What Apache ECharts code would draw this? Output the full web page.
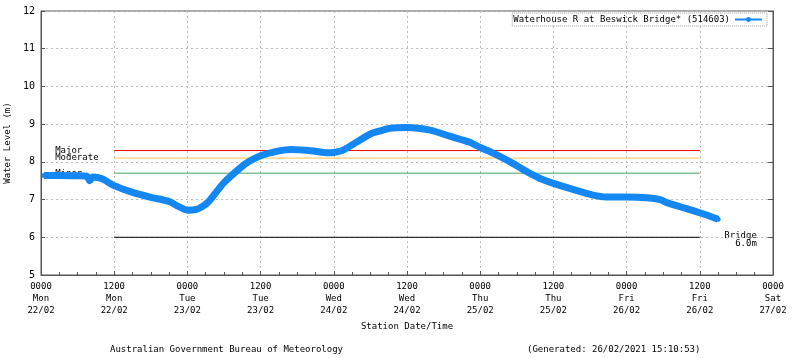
<!DOCTYPE html>
<html>
<head>
<meta charset="utf-8">
<script src="https://cdn.jsdelivr.net/npm/echarts@6/dist/echarts.min.js"></script>
<style>
html,body{margin:0;padding:0;background:#fff;}
#chart{width:800px;height:358px;}
</style>
</head>
<body>
<div id="chart"></div>
<script>
// ---- data ----
const seriesName = 'Waterhouse R at Beswick Bridge* (514603)';
// hours since 0000 Mon 22/02/2021
const levelHours = [0.5, 3, 6, 7.5, 8, 8.5, 10, 12, 15, 18, 21, 22.5, 24, 25.5, 26.5, 27.5, 28.5, 30, 32.6, 34, 36, 39, 41, 44.6, 47, 48, 49.5, 52.3, 54, 55.6, 57.2, 60, 63.8, 67, 70.3, 72, 73.6, 76.9, 80.2, 81.8, 84, 87.2, 90.5, 92.7, 96, 99.3, 101.5, 102.6, 104.8, 108, 111];
const levelValues = [7.64, 7.64, 7.63, 7.62, 7.50, 7.60, 7.55, 7.37, 7.19, 7.06, 6.95, 6.82, 6.72, 6.74, 6.82, 6.95, 7.15, 7.45, 7.83, 8.00, 8.16, 8.29, 8.33, 8.29, 8.24, 8.25, 8.31, 8.58, 8.74, 8.82, 8.89, 8.91, 8.84, 8.68, 8.52, 8.38, 8.27, 8.00, 7.69, 7.56, 7.43, 7.27, 7.12, 7.07, 7.07, 7.05, 7.00, 6.92, 6.81, 6.65, 6.48];

const thresholdNames = ['Major', 'Moderate', 'Minor', 'Bridge\n6.0m'];
const thresholdValues = [8.3, 8.1, 7.7, 6.0];
const thresholdStart = 12;
const thresholdEnd = 108;

const xTickLabels = ['0000\nMon\n22/02', '1200\nMon\n22/02', '0000\nTue\n23/02', '1200\nTue\n23/02', '0000\nWed\n24/02', '1200\nWed\n24/02', '0000\nThu\n25/02', '1200\nThu\n25/02', '0000\nFri\n26/02', '1200\nFri\n26/02', '0000\nSat\n27/02'];
const yMin = 5, yMax = 12;
const xAxisTitle = 'Station Date/Time';
const yAxisTitle = 'Water Level (m)';
const footerLeft = 'Australian Government Bureau of Meteorology';
const footerRight = '(Generated: 26/02/2021 15:10:53)';

// ---- chart ----
const FONT = 'DejaVu Sans Mono';
const thresholdColors = ['#ff0000', '#ffc34d', '#3da56a', '#000000'];
const chart = echarts.init(document.getElementById('chart'), null, {renderer: 'canvas'});

const levelData = levelHours.map((h, i) => [h, levelValues[i]]);

const thresholdSeries = thresholdNames.map((name, i) => ({
  name: 'thr' + i,
  type: 'line',
  silent: true,
  z: 1,
  showSymbol: false,
  symbol: 'none',
  lineStyle: {color: thresholdColors[i], width: 1},
  data: [[thresholdStart, thresholdValues[i]], [thresholdEnd, thresholdValues[i]]],
  animation: false
}));

const option = {
  animation: false,
  backgroundColor: '#ffffff',
  grid: {left: 41, right: 27, top: 11, bottom: 83, show: true, borderColor: '#555', borderWidth: 1,
         containLabel: false, outerBoundsMode: 'none'},
  legend: {
    data: [seriesName],
    right: 33, top: 13,
    align: 'right',
    itemWidth: 27, itemHeight: 6, itemGap: 4,
    padding: [2, 4, 2, 1],
    borderColor: '#999', borderWidth: 1, borderType: 'dotted',
    lineStyle: {width: 2},
    textStyle: {fontFamily: FONT, fontSize: 9, color: '#000', padding: [0, 0, 0, 0]}
  },
  xAxis: [{
    type: 'value', min: 0, max: 120, interval: 12,
    name: xAxisTitle, nameLocation: 'middle', nameGap: 47,
    nameTextStyle: {fontFamily: FONT, fontSize: 9, color: '#000'},
    axisLine: {lineStyle: {color: '#555'}},
    axisTick: {show: true, inside: true, length: 4, lineStyle: {color: '#555'}},
    minorTick: {show: true, splitNumber: 4, length: 3, lineStyle: {color: '#555'}},
    axisLabel: {showMaxLabel: true, showMinLabel: true, margin: 6, fontFamily: FONT, fontSize: 9, lineHeight: 12, color: '#000',
      formatter: v => xTickLabels[Math.round(v / 12)]},
    splitLine: {show: true, lineStyle: {color: '#bbb', type: [2, 3], width: 1}}
  }],
  yAxis: [{
    type: 'value', min: yMin, max: yMax, interval: 1,
    name: yAxisTitle, nameLocation: 'middle', nameGap: 28, nameRotate: 90,
    nameTextStyle: {fontFamily: FONT, fontSize: 9, color: '#000'},
    axisLine: {show: true, lineStyle: {color: '#555'}},
    axisTick: {show: true, inside: true, length: 4, lineStyle: {color: '#555'}},
    axisLabel: {margin: 6, fontFamily: FONT, fontSize: 10, color: '#000'},
    splitLine: {show: true, lineStyle: {color: '#bbb', type: [2, 3], width: 1}}
  }, {
    type: 'value', min: yMin, max: yMax, interval: 1, position: 'right',
    axisLine: {show: true, lineStyle: {color: '#555'}},
    axisTick: {show: true, inside: true, length: 5, lineStyle: {color: '#555'}},
    axisLabel: {show: false},
    splitLine: {show: false}
  }],
  series: [
    ...thresholdSeries,
    {
      name: seriesName,
      type: 'line',
      z: 5,
      smooth: 0.25,
      symbol: 'circle',
      symbolSize: 5,
      showSymbol: true,
      lineStyle: {color: '#1487f2', width: 7},
      itemStyle: {color: '#1487f2'},
      data: levelData
    }
  ],
  graphic: [
    {type: 'text', left: 110, top: 345, style: {text: footerLeft, font: '9px "DejaVu Sans Mono"', fill: '#000'}},
    {type: 'text', left: 527, top: 345, style: {text: footerRight, font: '9px "DejaVu Sans Mono"', fill: '#000'}}
  ]
};
chart.setOption(option);

// threshold labels, positioned through the chart's own scales (drawn beneath the series)
const labelGraphics = thresholdNames.map((name, i) => {
  const isBridge = i === 3;
  const p = chart.convertToPixel({xAxisIndex: 0, yAxisIndex: 0}, [isBridge ? thresholdEnd : thresholdStart, thresholdValues[i]]);
  return {
    type: 'text', z: 0, zlevel: 0,
    x: isBridge ? p[0] + 57 : p[0] - 59,
    y: isBridge ? p[1] + 2 : p[1],
    style: {
      text: name, font: '9px "DejaVu Sans Mono"', fill: '#000',
      align: isBridge ? 'right' : 'left', verticalAlign: 'middle', lineHeight: 8
    }
  };
});
chart.setOption({graphic: option.graphic.concat(labelGraphics)});
</script>
</body>
</html>
